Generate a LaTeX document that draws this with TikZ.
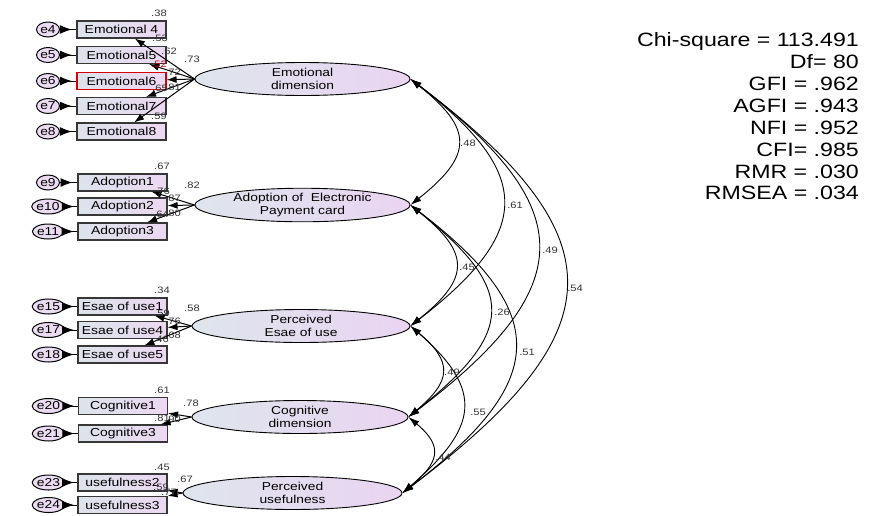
\documentclass[tikz,border=0pt]{standalone}
\usepackage{fontspec}
\setmainfont{Liberation Sans}[FakeStretch=1.2]
\usetikzlibrary{arrows.meta, shapes.geometric, decorations.markings}
\definecolor{latL}{RGB}{222,229,237}
\definecolor{latR}{RGB}{234,212,242}
\definecolor{boxL}{RGB}{220,227,235}
\definecolor{boxR}{RGB}{236,216,242}
\definecolor{errF}{RGB}{236,220,243}
\definecolor{boxD}{RGB}{55,55,55}
\tikzset{
  % latent variable
  lat/.style={ellipse, draw=black, line width=0.9pt, left color=latL, right color=latR,
              inner sep=0pt, minimum width=215pt, minimum height=33pt, align=center,
              font=\fontsize{11.5}{13}\selectfont},
  % observed item
  ind/.style={rectangle, draw=boxD, line width=1.1pt, left color=boxL, right color=boxR,
              minimum width=89pt, minimum height=17pt, inner sep=0pt,
              font=\fontsize{11.6}{13}\selectfont},
  % error term
  err/.style={ellipse, draw=black, line width=1pt, fill=errF, minimum width=23pt,
              minimum height=15pt, inner sep=0pt, font=\fontsize{11.5}{13}\selectfont},
  errar/.style={line width=1pt, postaction={decorate},
              decoration={markings, mark=at position 0.72 with {\arrow{Latex[length=12pt,width=9pt]}}}},
  ld/.style={-{Latex[length=10pt,width=7pt]}, line width=1pt},
  cov/.style={{Latex[length=11pt,width=7pt]}-{Latex[length=11pt,width=7pt]}, line width=0.9pt},
  num/.style={font=\fontsize{9.3}{10}\selectfont, text=black!80, inner sep=0pt}
}
\begin{document}
\begin{tikzpicture}[x=1pt,y=-1pt]
  \useasboundingbox (0,0) rectangle (896,515);

  % latent factors
  \node[lat] (emo) at (302.5,79) {Emotional\\dimension};
  \node[lat] (ado) at (302.5,205) {Adoption of\ \ Electronic\\Payment card};
  \node[lat, minimum width=218pt] (eou) at (301,326) {Perceived\\Esae of use};
  \node[lat, minimum width=216pt] (cog) at (300,417) {Cognitive\\dimension};
  \node[lat, minimum width=219pt] (pu) at (292.5,493) {Perceived\\usefulness};

  % emotional items
  \node[ind] (emo4) at (121.5,29.5) {Emotional 4};
  \node[ind] (emo5) at (121.5,55) {Emotional5};
  \node[ind, draw=red!85!black] (emo6) at (121.5,81) {Emotional6};
  \node[ind] (emo7) at (121.5,106) {Emotional7};
  \node[ind] (emo8) at (121.5,131.5) {Emotional8};
  \node[err] (e4) at (48,29.5) {e4};
  \node[err] (e5) at (48,55) {e5};
  \node[err] (e6) at (48,81) {e6};
  \node[err] (e7) at (48,106) {e7};
  \node[err] (e8) at (48,131.5) {e8};

  % adoption items
  \node[ind] (ado1) at (122.5,182.5) {Adoption1};
  \node[ind] (ado2) at (122.5,206.5) {Adoption2};
  \node[ind] (ado3) at (122.5,231.5) {Adoption3};
  \node[err] (e9) at (48,182.5) {e9};
  \node[err] (e10) at (48,206.5) {e10};
  \node[err] (e11) at (48,231.5) {e11};

  % ease of use items
  \node[ind] (eou1) at (122.5,306.5) {Esae of use1};
  \node[ind] (eou4) at (122.5,330) {Esae of use4};
  \node[ind] (eou5) at (122.5,354.5) {Esae of use5};
  \node[err] (e15) at (48.5,306.5) {e15};
  \node[err] (e17) at (48.5,330) {e17};
  \node[err] (e18) at (48.5,354.5) {e18};

  % cognitive items
  \node[ind] (cog1) at (123,406) {Cognitive1};
  \node[ind] (cog3) at (123,433.5) {Cognitive3};
  \node[err] (e20) at (48.5,406) {e20};
  \node[err] (e21) at (48.5,433.5) {e21};

  % usefulness items
  \node[ind] (pu2) at (122.5,482.5) {usefulness2};
  \node[ind] (pu3) at (122.5,505) {usefulness3};
  \node[err] (e23) at (48.5,482.5) {e23};
  \node[err] (e24) at (48.5,505) {e24};

  % error paths
  \draw[errar] (e4) -- (emo4);
  \draw[errar] (e5) -- (emo5);
  \draw[errar] (e6) -- (emo6);
  \draw[errar] (e7) -- (emo7);
  \draw[errar] (e8) -- (emo8);
  \draw[errar] (e9) -- (ado1);
  \draw[errar] (e10) -- (ado2);
  \draw[errar] (e11) -- (ado3);
  \draw[errar] (e15) -- (eou1);
  \draw[errar] (e17) -- (eou4);
  \draw[errar] (e18) -- (eou5);
  \draw[errar] (e20) -- (cog1);
  \draw[errar] (e21) -- (cog3);
  \draw[errar] (e23) -- (pu2);
  \draw[errar] (e24) -- (pu3);

  % loadings
  \draw[ld] (emo.west) -- (emo4);
  \draw[ld] (emo.west) -- (emo5);
  \draw[ld] (emo.west) -- (emo6);
  \draw[ld] (emo.west) -- (emo7);
  \draw[ld] (emo.west) -- (emo8);
  \draw[ld] (ado.west) -- (ado1);
  \draw[ld] (ado.west) -- (ado2);
  \draw[ld] (ado.west) -- (ado3);
  \draw[ld] (eou.west) -- (eou1);
  \draw[ld] (eou.west) -- (eou4);
  \draw[ld] (eou.west) -- (eou5);
  \draw[ld] (cog.west) -- (cog1);
  \draw[ld] (cog.west) -- (cog3);
  \draw[ld] (pu.west) -- (pu2);
  \draw[ld] (pu.west) -- (pu3);

  % estimates next to the items
  \node[num] (r1) at (159,13) {.38};
  \node[num] (r2) at (160,38) {.53};
  \node[num] (l1) at (169,51) {.62};
  \node[num] (l2) at (192,59) {.73};
  \node[num, text=red!85!black] (r3) at (159,64) {.52};
  \node[num] (l3) at (173,72) {.72};
  \node[num] (r4) at (160,88) {.65};
  \node[num] (l4) at (173,87) {.81};
  \node[num] (r5) at (159,116) {.59};

  \node[num] (r6) at (162,166) {.67};
  \node[num] (l6) at (192,185) {.82};
  \node[num] (r7) at (162,191) {.76};
  \node[num] (l7) at (173,198) {.87};
  \node[num] (r8) at (161,214) {.64};
  \node[num] (l8) at (173,213) {.80};

  \node[num] (r9) at (162,290) {.34};
  \node[num] (l9) at (192,308) {.58};
  \node[num] (r10) at (162,313) {.59};
  \node[num] (l10) at (173,321) {.76};
  \node[num] (r11) at (161,339) {.46};
  \node[num] (l11) at (173,335) {.68};

  \node[num] (r12) at (162,390) {.61};
  \node[num] (l12) at (191,403) {.78};
  \node[num] (r13) at (162,418) {.81};
  \node[num] (l13) at (173,419) {.90};

  \node[num] (r14) at (162,467) {.45};
  \node[num] (l14) at (185,479) {.67};
  \node[num] (r15) at (161,487) {.59};
  \node[num] (l15) at (169,492) {.77};

  % covariances between factors
  \draw[cov] (emo.east) .. controls +(63,50) and +(63,-50) .. (ado.east);
  \draw[cov] (emo.east) .. controls +(123,95) and +(123,-95) .. (eou.east);
  \draw[cov] (emo.east) .. controls +(171,130) and +(171,-130) .. (cog.east);
  \draw[cov] (emo.east) .. controls +(212,160) and +(212,-160) .. (pu.east);
  \draw[cov] (ado.east) .. controls +(60,48) and +(60,-48) .. (eou.east);
  \draw[cov] (ado.east) .. controls +(107,85) and +(107,-85) .. (cog.east);
  \draw[cov] (ado.east) .. controls +(144,110) and +(144,-110) .. (pu.east);
  \draw[cov] (eou.east) .. controls +(43,36) and +(43,-36) .. (cog.east);
  \draw[cov] (eou.east) .. controls +(75,65) and +(75,-65) .. (pu.east);
  \draw[cov] (cog.east) .. controls +(36,30) and +(36,-30) .. (pu.east);

  \node[num] (c1) at (468,143) {.48};
  \node[num] (c2) at (515,205) {.61};
  \node[num] (c3) at (550,250) {.49};
  \node[num] (c4) at (575,288) {.54};
  \node[num] (c5) at (467,267) {.45};
  \node[num] (c6) at (502,312) {.26};
  \node[num] (c7) at (527,352) {.51};
  \node[num] (c8) at (452,372) {.49};
  \node[num] (c9) at (478,412) {.55};
  \node[num] (c10) at (443,457) {.44};

  % fit indices
  \node[anchor=north east, align=right, inner sep=0pt, font=\fontsize{19.3}{21.9}\selectfont]
    (fit) at (859,32.5) {Chi-square = 113.491\\Df= 80\\GFI = .962\\AGFI = .943\\NFI = .952\\CFI= .985\\RMR = .030\\RMSEA = .034};
\end{tikzpicture}
\end{document}
